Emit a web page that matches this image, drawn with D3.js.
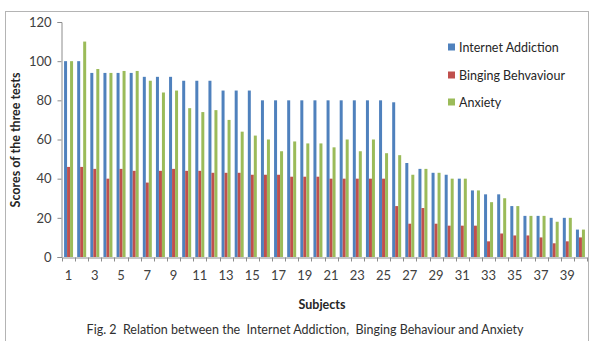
<!DOCTYPE html>
<html>
<head>
<meta charset="utf-8">
<script src="https://cdn.jsdelivr.net/npm/d3@7"></script>
<style>
  html, body { margin: 0; padding: 0; background: #fff; }
  svg { display: block; font-family: Lato, "Open Sans", sans-serif; }
</style>
</head>
<body>
<svg id="chart" width="592" height="341"></svg>
<script>
// Scores per subject (1..40) for the three tests
const subjects = d3.range(1, 41);
const seriesNames = ["Internet Addiction", "Binging Behvaviour", "Anxiety"];
const internetAddiction = [100,100,94,94,94,94,92,92,92,90,90,90,85,85,85,80,80,80,80,80,80,80,80,80,80,79,48,45,43,42,40,34,32,32,26,21,21,20,20,14];
const bingingBehaviour  = [46,46,45,40,45,44,38,44,45,44,44,43,43,43,42,42,42,41,41,41,40,40,40,40,40,26,17,25,17,16,16,16,8,12,11,11,10,7,8,10];
const anxiety           = [100,110,96,94,95,95,90,84,85,76,74,75,70,64,62,60,54,59,58,58,56,60,54,60,53,52,42,45,43,40,40,34,28,30,26,21,21,18,20,14];
const yTicks = [0, 20, 40, 60, 80, 100, 120];
const colors = ["#4F81BD", "#C0504D", "#9BBB59"];

const seriesValues = [internetAddiction, bingingBehaviour, anxiety];
const rows = subjects.map((s, i) => ({
  subject: s,
  values: seriesNames.map((name, k) => ({ name, k, value: seriesValues[k][i] }))
}));

const svg = d3.select("#chart");

// outer frame
svg.append("rect")
  .attr("x", 5.5).attr("y", 11.5)
  .attr("width", 583).attr("height", 345)
  .attr("fill", "none").attr("stroke", "#b4b4b4").attr("stroke-width", 1);

const plot = { left: 62, right: 587, top: 22, bottom: 257 };

const x = d3.scaleBand()
  .domain(subjects)
  .range([plot.left, plot.right])
  .paddingInner(0.315)
  .paddingOuter(0.1575);

const xInner = d3.scaleBand()
  .domain(d3.range(seriesNames.length))
  .range([0, x.bandwidth()]);

const y = d3.scaleLinear().domain([0, 120]).range([plot.bottom, plot.top]);

// bars
const groups = svg.append("g").selectAll("g")
  .data(rows)
  .join("g")
  .attr("transform", d => `translate(${x(d.subject)},0)`);

groups.selectAll("rect")
  .data(d => d.values)
  .join("rect")
  .attr("x", d => xInner(d.k))
  .attr("width", xInner.bandwidth())
  .attr("y", d => y(d.value))
  .attr("height", d => y(0) - y(d.value))
  .attr("fill", d => colors[d.k]);

// y axis
const yAxis = svg.append("g")
  .attr("transform", `translate(${plot.left - 0.5},0)`)
  .call(d3.axisLeft(y).tickValues(yTicks).tickSize(4).tickPadding(6));
yAxis.select(".domain").attr("stroke", "#8c8c8c");
yAxis.selectAll(".tick line").attr("stroke", "#8c8c8c");
yAxis.selectAll(".tick text")
  .attr("fill", "#404040").attr("font-size", 13)
  .attr("font-family", "Lato, sans-serif");

// x axis: labels on odd subjects, tick marks between categories
const xAxis = svg.append("g")
  .attr("transform", `translate(0,${plot.bottom + 0.5})`)
  .call(d3.axisBottom(x)
    .tickValues(subjects.filter(s => s % 2 === 1))
    .tickSize(0).tickPadding(13));
xAxis.select(".domain").attr("stroke", "#8c8c8c");
xAxis.selectAll(".tick text")
  .attr("fill", "#404040").attr("font-size", 13)
  .attr("font-family", "Lato, sans-serif");

const step = x.step();
const boundaries = subjects.map(s => x(s) - (step - x.bandwidth()) / 2).concat([plot.right]);
xAxis.append("g").selectAll("line")
  .data(boundaries)
  .join("line")
  .attr("x1", d => Math.round(d) + 0.5).attr("x2", d => Math.round(d) + 0.5)
  .attr("y1", 0).attr("y2", 4)
  .attr("stroke", "#8c8c8c");

// axis titles
svg.append("text")
  .attr("transform", `translate(20,140) rotate(-90)`)
  .attr("text-anchor", "middle")
  .attr("font-size", 12.5).attr("font-weight", "bold").attr("fill", "#262626")
  .text("Scores of the three tests");

svg.append("text")
  .attr("x", 322).attr("y", 309)
  .attr("text-anchor", "middle")
  .attr("font-size", 12.5).attr("font-weight", "bold").attr("fill", "#262626")
  .text("Subjects");

// caption
svg.append("text")
  .attr("x", 305).attr("y", 334)
  .attr("text-anchor", "middle")
  .attr("font-size", 12.5).attr("fill", "#303030")
  .style("white-space", "pre")
  .attr("xml:space", "preserve")
  .text("Fig. 2  Relation between the  Internet Addiction,  Binging Behaviour and Anxiety");

// legend
const legend = svg.append("g").attr("transform", "translate(448,0)");
const legendY = [47, 75, 102];
const items = legend.selectAll("g")
  .data(seriesNames)
  .join("g")
  .attr("transform", (d, i) => `translate(0,${legendY[i]})`);
items.append("rect")
  .attr("x", 0).attr("y", -3.5).attr("width", 7).attr("height", 7)
  .attr("fill", (d, i) => colors[i]);
items.append("text")
  .attr("x", 11).attr("y", 4.5)
  .attr("font-size", 12.5).attr("fill", "#262626")
  .text(d => d);
</script>
</body>
</html>
